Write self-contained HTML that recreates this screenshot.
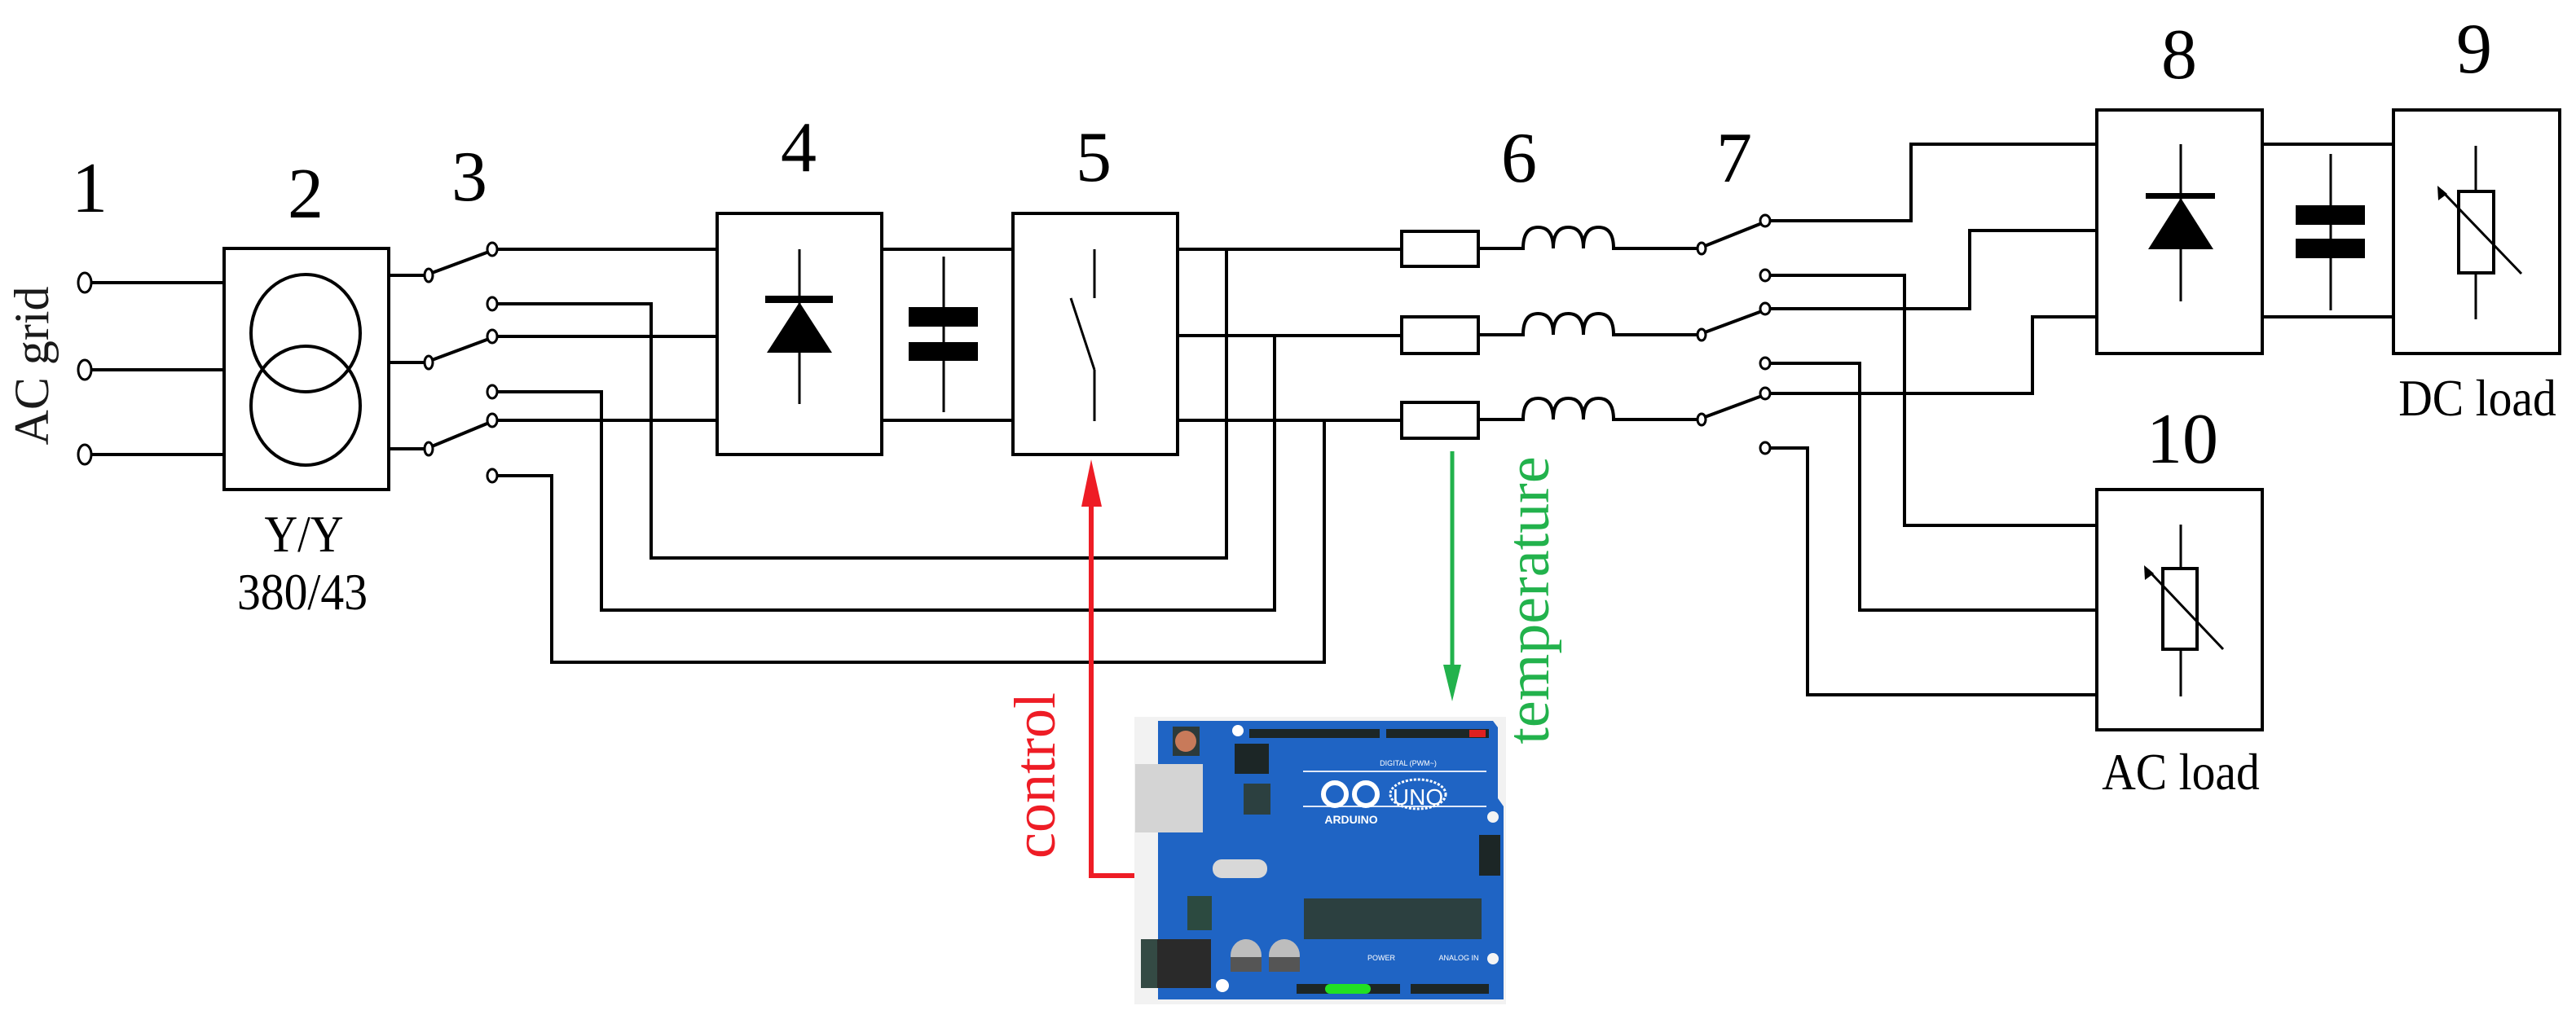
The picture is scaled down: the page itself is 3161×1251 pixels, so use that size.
<!DOCTYPE html>
<html><head><meta charset="utf-8"><style>
html,body{margin:0;padding:0;background:#fff;}
svg{display:block;}
text{font-family:"Liberation Serif",serif;}
</style></head><body>
<svg width="3161" height="1251" viewBox="0 0 3161 1251" xmlns="http://www.w3.org/2000/svg">
<g fill="none" stroke="#000" stroke-width="4">
<rect x="275" y="305" width="202" height="296"/>
<ellipse cx="375" cy="409" rx="67" ry="72"/>
<ellipse cx="375" cy="498" rx="67" ry="73"/>
<line x1="113" y1="347" x2="275" y2="347"/>
<line x1="113" y1="454" x2="275" y2="454"/>
<line x1="113" y1="558" x2="275" y2="558"/>
<line x1="477" y1="338" x2="520" y2="338"/>
<line x1="477" y1="445" x2="520" y2="445"/>
<line x1="477" y1="551" x2="520" y2="551"/>
<line x1="530" y1="335" x2="600" y2="309"/>
<line x1="530" y1="442" x2="600" y2="416"/>
<line x1="530" y1="548" x2="600" y2="519"/>
<line x1="611" y1="306" x2="880" y2="306"/>
<line x1="611" y1="413" x2="880" y2="413"/>
<line x1="611" y1="516" x2="880" y2="516"/>
<line x1="1082" y1="306" x2="1243" y2="306"/>
<line x1="1082" y1="516" x2="1243" y2="516"/>
<line x1="1445" y1="306" x2="1720" y2="306"/>
<line x1="1445" y1="412" x2="1720" y2="412"/>
<line x1="1445" y1="516" x2="1720" y2="516"/>
<polyline points="611,373 799,373 799,685 1505,685 1505,306"/>
<polyline points="611,481 738,481 738,749 1564,749 1564,412"/>
<polyline points="611,584 677,584 677,813 1625,813 1625,516"/>
<rect x="880" y="262" width="202" height="296"/>
<line x1="981" y1="306" x2="981" y2="496" stroke-width="3"/>
<line x1="1158" y1="315" x2="1158" y2="506" stroke-width="3"/>
<rect x="1243" y="262" width="202" height="296"/>
<line x1="1343" y1="306" x2="1343" y2="366" stroke-width="3"/>
<line x1="1314" y1="366" x2="1343" y2="454" stroke-width="3"/>
<line x1="1343" y1="454" x2="1343" y2="517" stroke-width="3"/>
<rect x="1720" y="284" width="94" height="43"/>
<rect x="1720" y="389" width="94" height="45"/>
<rect x="1720" y="494" width="94" height="44"/>
<path d="M1814 305 H1869 q0 -26 18.5 -26 q18.5 0 18.5 26 q0 -26 18.5 -26 q18.5 0 18.5 26 q0 -26 18.5 -26 q18.5 0 18.5 26 H2082"/>
<path d="M1814 411 H1869 q0 -26 18.5 -26 q18.5 0 18.5 26 q0 -26 18.5 -26 q18.5 0 18.5 26 q0 -26 18.5 -26 q18.5 0 18.5 26 H2082"/>
<path d="M1814 515 H1869 q0 -26 18.5 -26 q18.5 0 18.5 26 q0 -26 18.5 -26 q18.5 0 18.5 26 q0 -26 18.5 -26 q18.5 0 18.5 26 H2082"/>
<line x1="2092" y1="302" x2="2162" y2="274"/>
<line x1="2092" y1="408" x2="2162" y2="382"/>
<line x1="2092" y1="512" x2="2162" y2="486"/>
<polyline points="2172,271 2345,271 2345,177 2573,177"/>
<polyline points="2172,379 2417,379 2417,283 2573,283"/>
<polyline points="2172,483 2494,483 2494,389 2573,389"/>
<polyline points="2172,338 2337,338 2337,645 2573,645"/>
<polyline points="2172,446 2282,446 2282,749 2573,749"/>
<polyline points="2172,550 2218,550 2218,853 2573,853"/>
<rect x="2573" y="135" width="203" height="299"/>
<line x1="2676" y1="177" x2="2676" y2="370" stroke-width="3"/>
<line x1="2776" y1="177" x2="2937" y2="177"/>
<line x1="2776" y1="389" x2="2937" y2="389"/>
<line x1="2860" y1="189" x2="2860" y2="381" stroke-width="3"/>
<rect x="2937" y="135" width="204" height="299"/>
<line x1="3038" y1="179" x2="3038" y2="392" stroke-width="3"/>
<rect x="3017" y="235" width="43" height="100" fill="#fff"/>
<line x1="3094" y1="336" x2="2996" y2="234" stroke-width="3"/>
<rect x="2573" y="601" width="203" height="295"/>
<line x1="2676" y1="644" x2="2676" y2="855" stroke-width="3"/>
<rect x="2654" y="698" width="42" height="99" fill="#fff"/>
<line x1="2728" y1="797" x2="2636" y2="700" stroke-width="3"/>
</g>
<g fill="#000">
<rect x="939" y="363" width="83" height="9"/>
<polygon points="981,371 941,433 1021,433"/>
<rect x="1115" y="377" width="85" height="24"/>
<rect x="1115" y="420" width="85" height="23"/>
<rect x="2633" y="237" width="85" height="7"/>
<polygon points="2676,243 2636,306 2716,306"/>
<rect x="2817" y="252" width="85" height="24"/>
<rect x="2817" y="293" width="85" height="24"/>
<polygon points="2991,228 2992,246 3003,238"/>
<polygon points="2631,694 2632,712 2643,704"/>
</g>
<g fill="#fff" stroke="#000" stroke-width="3">
<ellipse cx="104" cy="347" rx="8" ry="12"/>
<ellipse cx="104" cy="454" rx="8" ry="12"/>
<ellipse cx="104" cy="558" rx="8" ry="12"/>
<ellipse cx="526" cy="338" rx="5" ry="8"/>
<ellipse cx="526" cy="445" rx="5" ry="8"/>
<ellipse cx="526" cy="551" rx="5" ry="8"/>
<ellipse cx="604" cy="306" rx="6" ry="8"/>
<ellipse cx="604" cy="373" rx="6" ry="8"/>
<ellipse cx="604" cy="413" rx="6" ry="8"/>
<ellipse cx="604" cy="481" rx="6" ry="8"/>
<ellipse cx="604" cy="516" rx="6" ry="8"/>
<ellipse cx="604" cy="584" rx="6" ry="8"/>
<ellipse cx="2088" cy="305" rx="5" ry="7"/>
<ellipse cx="2088" cy="411" rx="5" ry="7"/>
<ellipse cx="2088" cy="515" rx="5" ry="7"/>
<ellipse cx="2166" cy="271" rx="6" ry="7"/>
<ellipse cx="2166" cy="338" rx="6" ry="7"/>
<ellipse cx="2166" cy="379" rx="6" ry="7"/>
<ellipse cx="2166" cy="446" rx="6" ry="7"/>
<ellipse cx="2166" cy="483" rx="6" ry="7"/>
<ellipse cx="2166" cy="550" rx="6" ry="7"/>
</g>
<polyline points="1339,620 1339,1075 1417,1075" fill="none" stroke="#ee1c25" stroke-width="6"/>
<polygon points="1339,564 1327,622 1352,622" fill="#ee1c25"/>
<text x="0" y="0" transform="translate(1294,952) rotate(-90)" text-anchor="middle" font-size="72" fill="#ee1c25">control</text>
<line x1="1782" y1="554" x2="1782" y2="830" stroke="#22b24c" stroke-width="5"/>
<polygon points="1782,861 1771,816 1793,816" fill="#22b24c"/>
<text x="0" y="0" transform="translate(1900,737) rotate(-90)" text-anchor="middle" font-size="74" fill="#22b24c">temperature</text>
<g font-size="88" text-anchor="middle" fill="#000">
<text x="110" y="260">1</text>
<text x="375" y="267">2</text>
<text x="576" y="246">3</text>
<text x="980" y="210">4</text>
<text x="1342" y="222">5</text>
<text x="1864" y="223">6</text>
<text x="2128" y="223">7</text>
<text x="2674" y="96">8</text>
<text x="3036" y="89">9</text>
<text x="2678" y="568">10</text>
</g>
<text x="0" y="0" transform="translate(59,449) rotate(-90)" text-anchor="middle" font-size="60" fill="#1a1a1a">AC grid</text>
<g font-size="64" text-anchor="middle" fill="#000">
<text transform="translate(373,677) scale(0.88,1)">Y/Y</text>
<text transform="translate(371,748) scale(0.9,1)">380/43</text>
<text transform="translate(3040,510) scale(0.9,1)">DC load</text>
<text transform="translate(2676,969) scale(0.9,1)">AC load</text>
</g>
<g>
<rect x="1392" y="880" width="456" height="353" fill="#f2f2f2"/>
<path d="M1421 885 H1832 L1838 893 V980 L1845 990 V1227 H1421 Z" fill="#1f64c4"/>
<rect x="1393" y="938" width="83" height="84" fill="#d4d4d4"/>
<rect x="1400" y="1153" width="86" height="60" fill="#2a2a2a"/>
<rect x="1400" y="1153" width="20" height="60" fill="#344a44"/>
<rect x="1439" y="892" width="33" height="36" fill="#2c3a3a"/>
<circle cx="1455" cy="910" r="13" fill="#c87a5a"/>
<rect x="1533" y="895" width="160" height="11" fill="#1c2626"/>
<rect x="1701" y="895" width="126" height="11" fill="#1c2626"/>
<rect x="1803" y="896" width="20" height="9" fill="#e02020"/>
<rect x="1515" y="913" width="42" height="37" fill="#1c2626"/>
<rect x="1526" y="962" width="33" height="38" fill="#2c4040"/>
<rect x="1600" y="1103" width="218" height="50" fill="#2c4040"/>
<rect x="1591" y="1208" width="127" height="12" fill="#1c2626"/>
<rect x="1731" y="1208" width="96" height="12" fill="#1c2626"/>
<rect x="1626" y="1208" width="56" height="12" rx="6" fill="#22e022"/>
<rect x="1488" y="1055" width="67" height="23" rx="11" fill="#d8d8d8"/>
<ellipse cx="1529" cy="1173" rx="19" ry="20" fill="#bdbdbd"/>
<ellipse cx="1576" cy="1173" rx="19" ry="20" fill="#bdbdbd"/>
<rect x="1510" y="1175" width="38" height="18" fill="#555"/>
<rect x="1557" y="1175" width="38" height="18" fill="#555"/>
<rect x="1457" y="1100" width="30" height="42" fill="#2c4a40"/>
<rect x="1815" y="1025" width="26" height="50" fill="#1c2626"/>
<line x1="1599" y1="990" x2="1824" y2="990" stroke="#e0e8f8" stroke-width="2"/>
<line x1="1599" y1="947" x2="1824" y2="947" stroke="#e0e8f8" stroke-width="2"/>
<circle cx="1638" cy="975" r="14" fill="none" stroke="#fff" stroke-width="6"/>
<circle cx="1676" cy="975" r="14" fill="none" stroke="#fff" stroke-width="6"/>
<ellipse cx="1740" cy="975" rx="34" ry="18" fill="none" stroke="#fff" stroke-width="3" stroke-dasharray="3 2"/>
<text x="1740" y="988" text-anchor="middle" style="font-family:'Liberation Sans',sans-serif" font-size="28" fill="#fff">UNO</text>
<text x="1658" y="1011" text-anchor="middle" style="font-family:'Liberation Sans',sans-serif" font-size="14" font-weight="bold" fill="#fff">ARDUINO</text>
<text x="1728" y="940" text-anchor="middle" style="font-family:'Liberation Sans',sans-serif" font-size="9" fill="#fff">DIGITAL (PWM~)</text>
<text x="1695" y="1179" text-anchor="middle" style="font-family:'Liberation Sans',sans-serif" font-size="9" fill="#fff">POWER</text>
<text x="1790" y="1179" text-anchor="middle" style="font-family:'Liberation Sans',sans-serif" font-size="9" fill="#fff">ANALOG IN</text>
<circle cx="1519" cy="897" r="7" fill="#fff"/>
<circle cx="1832" cy="1003" r="7" fill="#f4f4f4"/>
<circle cx="1500" cy="1210" r="8" fill="#fff"/>
<circle cx="1832" cy="1177" r="7" fill="#f4f4f4"/>
</g>
</svg>
</body></html>
